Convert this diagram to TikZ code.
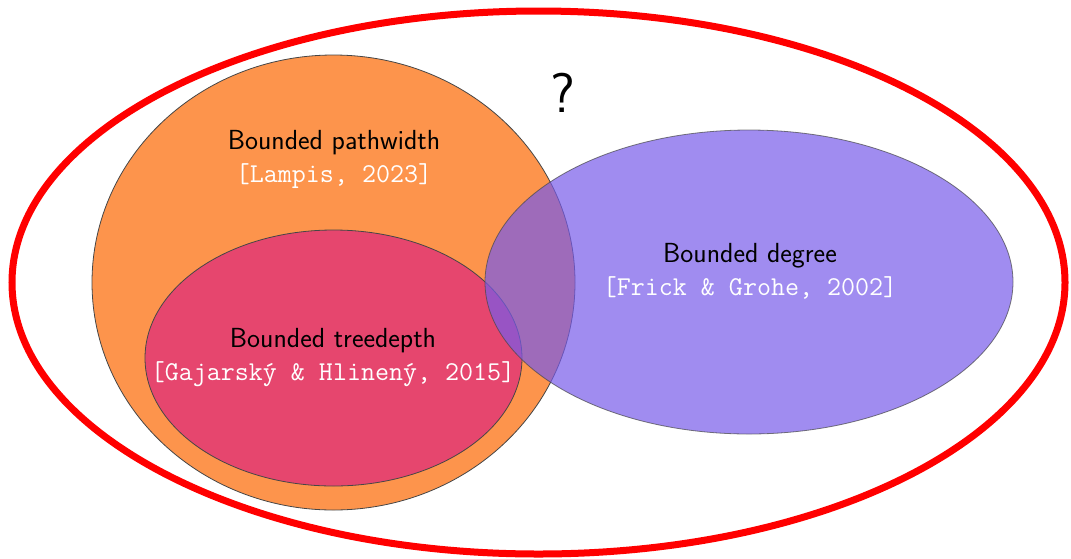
\documentclass[tikz,border=0pt]{standalone}
\usepackage{fontspec}
\definecolor{orangefill}{RGB}{253,148,76}
\definecolor{pinkfill}{RGB}{230,70,110}
\definecolor{bluefill}{RGB}{119,91,233}
\definecolor{edgegray}{RGB}{70,70,70}
\begin{document}
\begin{tikzpicture}[x=1pt,y=-1pt,
  setshape/.style={draw=edgegray, line width=0.8pt},
  title/.style={font=\sffamily\fontsize{27.6}{33}\selectfont, text=black},
  cite/.style={font=\ttfamily\fontsize{27.2}{33}\selectfont, text=white}]
\useasboundingbox (0,0) rectangle (1071,558);
\draw[red, line width=7pt] (538.5,282.5) ellipse [x radius=526.5, y radius=271.5];
\draw[setshape, fill=orangefill] (333.5,282.5) ellipse [x radius=241.5, y radius=227.5];
\draw[setshape, fill=pinkfill] (333.5,358) ellipse [x radius=188.5, y radius=128];
\draw[setshape, fill=bluefill, opacity=0.7] (749,282) ellipse [x radius=264, y radius=152];
\node[title] (pw) at (334,143) {Bounded pathwidth};
\node[cite] (pwc) at (334,176) {[Lampis, 2023]};
\node[title] (td) at (333,341) {Bounded treedepth};
\node[cite] (tdc) at (333,374) {[Gajarský \& Hlinený, 2015]};
\node[title] (dg) at (750,256) {Bounded degree};
\node[cite] (dgc) at (750,288) {[Frick \& Grohe, 2002]};
\node[font=\sffamily\fontsize{56}{60}\selectfont] (q) at (563,93) {?};
\end{tikzpicture}
\end{document}
